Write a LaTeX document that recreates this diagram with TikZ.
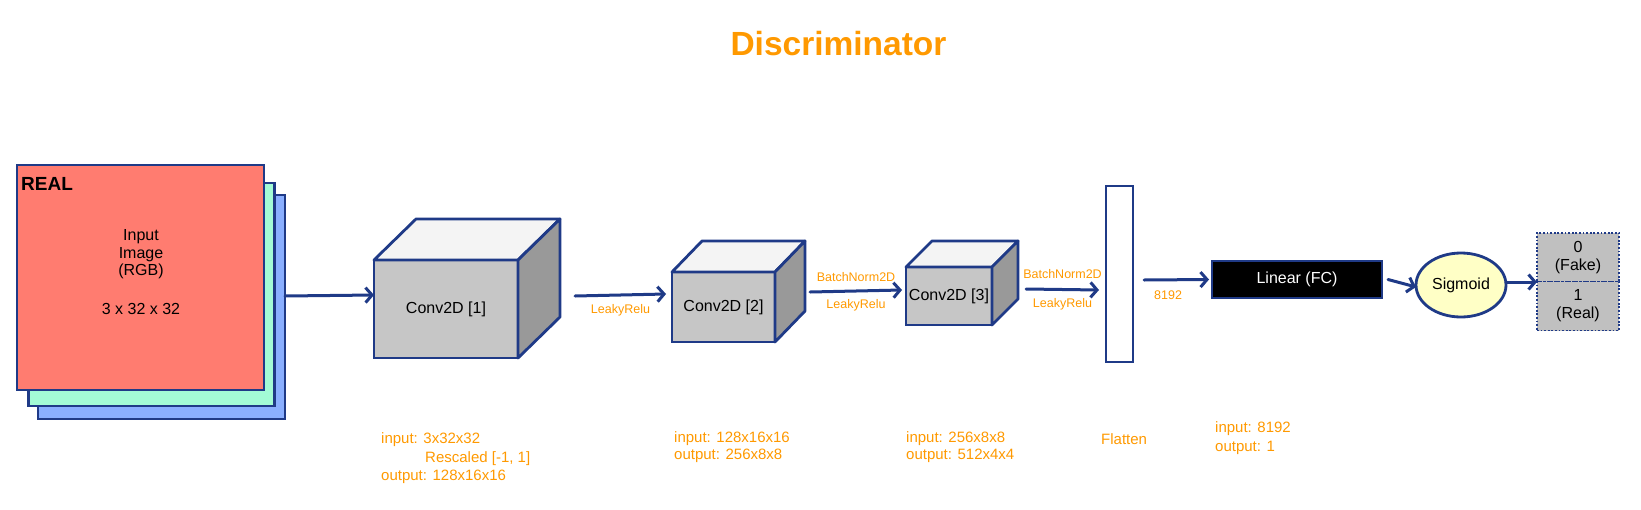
\documentclass[tikz,border=0pt]{standalone}
\usepackage{fontspec}
\setmainfont{Liberation Sans}
\usetikzlibrary{arrows.meta,shapes.geometric,calc}
\definecolor{lnblue}{HTML}{1F3A87}
\definecolor{ttlorange}{HTML}{FF9900}
\definecolor{imgred}{HTML}{FF7C70}
\definecolor{imggreen}{HTML}{A3FBD6}
\definecolor{imgblue}{HTML}{8AAFFF}
\definecolor{cubefr}{HTML}{C6C6C6}
\definecolor{cubetp}{HTML}{F4F4F4}
\definecolor{cubesd}{HTML}{999999}
\definecolor{sigfill}{HTML}{FFFFC6}
\definecolor{outfill}{HTML}{C0C0C0}
\newcommand\cubefaces[3]{%
  \draw[faceline, fill=cubetp] (#1.north west) -- ++(#2,-#3) -- ($(#1.north east)+(#2,-#3)$) -- (#1.north east) -- cycle;
  \draw[faceline, fill=cubesd] (#1.north east) -- ++(#2,-#3) -- ($(#1.south east)+(#2,-#3)$) -- (#1.south east) -- cycle;
}
\tikzset{
  faceline/.style={draw=lnblue, line width=2.8pt, line join=round},
  layerbox/.style={rectangle, draw=lnblue, line width=2.8pt, inner sep=0pt, outer sep=0pt},
  cubefront/.style={layerbox, fill=cubefr, font=\fontsize{16}{18}\selectfont},
  arr/.style={draw=lnblue, line width=3pt, line cap=round, -{Straight Barb[length=6.5pt,width=15pt]}},
  lbl/.style={text=ttlorange, inner sep=0pt, font=\fontsize{12.5}{14}\selectfont},
  note/.style={text=ttlorange, anchor=base west, inner sep=0pt, font=\fontsize{15}{18}\selectfont},
  intext/.style={anchor=base, inner sep=0pt, font=\fontsize{16}{18}\selectfont},
  outbox/.style={rectangle, draw=lnblue, line width=1.8pt, dash pattern=on 1.8pt off 1.8pt, fill=outfill, minimum width=82pt, minimum height=49pt, inner sep=0pt, outer sep=0pt, align=center, font=\fontsize{16}{18}\selectfont}
}
\begin{document}
\begin{tikzpicture}[x=1pt,y=-1pt]
\useasboundingbox (0,0) rectangle (1641,509);

% title
\node[anchor=base, inner sep=0pt, text=ttlorange, font=\fontsize{33.5}{38}\selectfont\bfseries] (title) at (838.5,55) {Discriminator};

% input image stack
\node[layerbox, fill=imgblue, minimum width=247pt, minimum height=224pt] (blue) at (161.5,307) {};
\node[layerbox, fill=imggreen, minimum width=246pt, minimum height=223pt] (green) at (151.5,294.5) {};
\node[layerbox, fill=imgred, minimum width=247pt, minimum height=225pt] (red) at (140.5,277.5) {};
\node[anchor=base west, inner sep=0pt, font=\fontsize{19}{22}\selectfont\bfseries] (real) at (21,190) {REAL};
\node[intext] (in1) at (141,240) {Input};
\node[intext] (in2) at (141,258) {Image};
\node[intext] (in3) at (141,275.5) {(RGB)};
\node[intext] (in4) at (141,314) {3 x 32 x 32};

% cubes
\node[cubefront, minimum width=144pt, minimum height=98pt] (c1) at (446,309) {Conv2D [1]};
\cubefaces{c1}{42}{41}
\node[cubefront, minimum width=103pt, minimum height=70pt] (c2) at (723.5,307) {Conv2D [2]};
\cubefaces{c2}{30}{31}
\node[cubefront, minimum width=86pt, minimum height=58pt] (c3) at (949,296) {Conv2D [3]};
\cubefaces{c3}{26}{26}

% flatten
\node[layerbox, fill=white, minimum width=27pt, minimum height=176pt] (flat) at (1119.5,274) {};

% linear
\node[layerbox, fill=black, text=white, minimum width=170pt, minimum height=37pt, font=\fontsize{16}{18}\selectfont] (lin) at (1297,279.5) {Linear (FC)};

% sigmoid
\node[ellipse, draw=lnblue, line width=2.8pt, fill=sigfill, minimum width=90pt, minimum height=64pt, inner sep=0pt, outer sep=0pt, font=\fontsize{16}{18}\selectfont] (sig) at (1461,285) {Sigmoid};

% outputs
\node[outbox] (o0) at (1578,257.5) {0\\(Fake)};
\node[outbox] (o1) at (1578,306) {1\\(Real)};

% connectors
\draw[arr] ([yshift=11pt]blue.east) -- ([yshift=14pt]c1.west);
\draw[arr] ([xshift=57pt,yshift=13pt]c1.east) -- node[lbl, midway, yshift=-15pt] (l1) {LeakyRelu} ([xshift=-6pt,yshift=13pt]c2.west);
\draw[arr] ([xshift=35pt,yshift=15pt]c2.east) -- node[lbl, midway, yshift=14pt] (l2a) {BatchNorm2D} node[lbl, midway, yshift=-14pt] (l2b) {LeakyRelu} ([xshift=-4pt,yshift=6pt]c3.west);
\draw[arr] ([xshift=34pt,yshift=7pt]c3.east) -- node[lbl, midway, yshift=15.5pt] (l3a) {BatchNorm2D} node[lbl, midway, yshift=-14.5pt] (l3b) {LeakyRelu} ([xshift=-7pt,yshift=-16pt]flat.west);
\draw[arr] ([xshift=11pt,yshift=-6pt]flat.east) -- node[lbl, pos=0.37, yshift=-15pt] (l4) {8192} ([xshift=-3pt]lin.west);
\draw[arr] ([xshift=6pt]lin.east) -- ([yshift=-2pt]sig.west);
\draw[arr] ([yshift=3pt]sig.east) -- (o0.south west);

% notes
\node[note] (n1a) at (381,443) {input: 3x32x32};
\node[note] (n1b) at (425,462) {Rescaled [-1, 1]};
\node[note] (n1c) at (381,480) {output: 128x16x16};
\node[note] (n2a) at (674,442) {input: 128x16x16};
\node[note] (n2b) at (674,459) {output: 256x8x8};
\node[note] (n3a) at (906,442) {input: 256x8x8};
\node[note] (n3b) at (906,459) {output: 512x4x4};
\node[note] (n4) at (1101,444) {Flatten};
\node[note] (n5a) at (1215,432) {input: 8192};
\node[note] (n5b) at (1215,451) {output: 1};
\end{tikzpicture}
\end{document}
